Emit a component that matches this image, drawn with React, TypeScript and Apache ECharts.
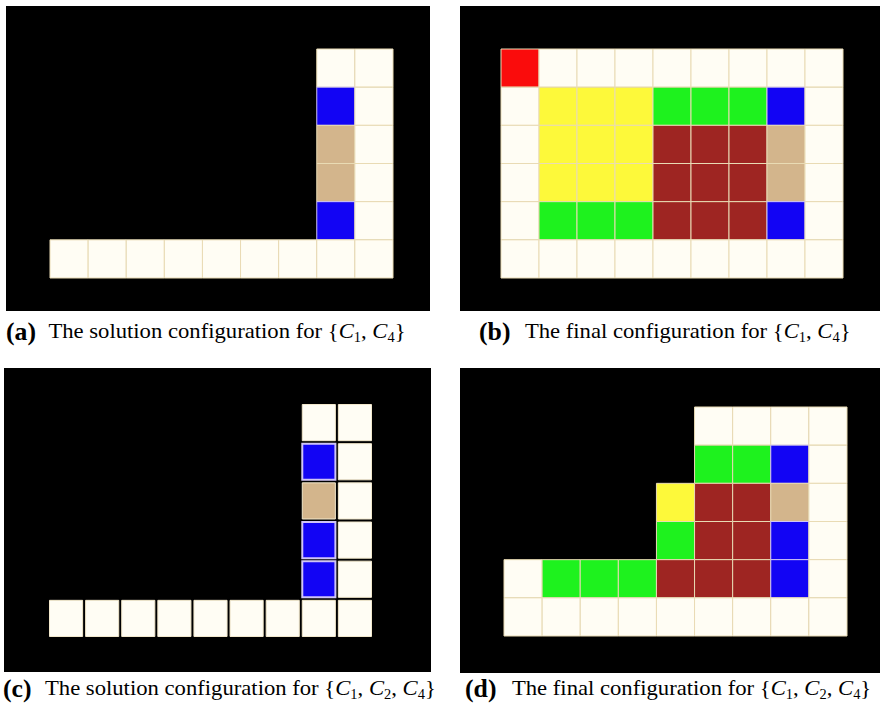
import React, { useEffect, useRef } from "react";
import * as echarts from "echarts";

// grid labels (hidden category axes)
const colLabels = ["1", "2", "3", "4", "5", "6", "7", "8", "9"];
const rowLabels = ["1", "2", "3", "4", "5", "6"];

// cell maps, top row first: W white, B blue, T tan, R red, Y yellow, G green, M brown, . empty
const panelA = [
  ".......WW",
  ".......BW",
  ".......TW",
  ".......TW",
  ".......BW",
  "WWWWWWWWW",
];
const panelB = [
  "RWWWWWWWW",
  "WYYYGGGBW",
  "WYYYMMMTW",
  "WYYYMMMTW",
  "WGGGMMMBW",
  "WWWWWWWWW",
];
const panelC = [
  ".......WW",
  ".......BW",
  ".......TW",
  ".......BW",
  ".......BW",
  "WWWWWWWWW",
];
const panelD = [
  ".....WWWW",
  ".....GGBW",
  "....YMMTW",
  "....GMMBW",
  "WGGGMMMBW",
  "WWWWWWWWW",
];

const captionLabels = ["(a)", "(b)", "(c)", "(d)"];
const captionTexts = [
  "The solution configuration for",
  "The final configuration for",
  "The solution configuration for",
  "The final configuration for",
];
const captionSubs = [["1", "4"], ["1", "4"], ["1", "2", "4"], ["1", "2", "4"]];

const PALETTE: Record<string, string> = {
  W: "#fffdf4",
  B: "#1204f4",
  T: "#d3b58c",
  R: "#fa0c0c",
  Y: "#fdf93a",
  G: "#1ef21e",
  M: "#9e2522",
};

const SERIF = "Liberation Serif";

const layout = [
  { bg: [6, 6, 424, 305], grid: [50, 49, 343, 229], inset: 0, cap: [6, 318], pad: 12 },
  { bg: [460, 6, 420, 305], grid: [501, 49, 342, 229], inset: 0, cap: [479, 318], pad: 14 },
  { bg: [4, 368, 427, 304], grid: [48, 403, 325, 235], inset: 1.5, cap: [3, 675], pad: 13 },
  { bg: [460, 368, 420, 305], grid: [504, 407, 343, 229], inset: 0, cap: [465, 675], pad: 15 },
];

function buildCells(panel: string[]) {
  const out: { value: number[]; key: string }[] = [];
  panel.forEach((row, r) => {
    row.split("").forEach((ch, c) => {
      if (ch !== ".") out.push({ value: [c, r], key: ch });
    });
  });
  return out;
}

export default function App() {
  const ref = useRef<HTMLDivElement>(null);
  useEffect(() => {
    if (!ref.current) return;
    const chart = echarts.init(ref.current, undefined, { renderer: "svg" });
    const panels = [panelA, panelB, panelC, panelD];

    const grids: any[] = [];
    const xAxes: any[] = [];
    const yAxes: any[] = [];
    const series: any[] = [];
    const graphics: any[] = [];

    panels.forEach((p, i) => {
      const L = layout[i];
      grids.push({ left: L.grid[0], top: L.grid[1], width: L.grid[2], height: L.grid[3], containLabel: false });
      xAxes.push({ type: "category", data: colLabels, gridIndex: i, show: false, boundaryGap: true });
      yAxes.push({ type: "category", data: rowLabels, gridIndex: i, show: false, inverse: true, boundaryGap: true });
      const cells = buildCells(p);
      const inset = L.inset;
      series.push({
        type: "custom",
        coordinateSystem: "cartesian2d",
        xAxisIndex: i,
        yAxisIndex: i,
        data: cells.map((c) => c.value),
        renderItem: (params: any, api: any) => {
          const pt = api.coord([api.value(0), api.value(1)]);
          const sz = api.size([1, 1]);
          const key = cells[params.dataIndex].key;
          let stroke = inset ? "#f2e8cc" : "#e9dbb4";
          let lw = 1;
          if (key === "B") {
            stroke = "#cfc4f6";
            lw = inset ? 2 : 1;
          }
          return {
            type: "rect",
            shape: {
              x: pt[0] - sz[0] / 2 + inset,
              y: pt[1] - sz[1] / 2 + inset,
              width: sz[0] - 2 * inset,
              height: sz[1] - 2 * inset,
            },
            style: { fill: PALETTE[key], stroke, lineWidth: lw },
          };
        },
      });
      graphics.push({
        type: "rect",
        z: -10,
        shape: { x: L.bg[0], y: L.bg[1], width: L.bg[2], height: L.bg[3] },
        style: { fill: "#000" },
      });
      const subs = captionSubs[i].map((s) => `{i|C}{s|${s}}`).join(", ");
      graphics.push({
        type: "text",
        x: L.cap[0],
        y: L.cap[1],
        scaleX: 1.03,
        style: {
          text: `{lab|${captionLabels[i]}}${captionTexts[i]} {${subs}}`,
          fontFamily: SERIF,
          fontSize: 22,
          lineHeight: 26,
          fill: "#000",
          align: "left",
          verticalAlign: "top",
          rich: {
            lab: { fontFamily: SERIF, fontSize: 25, fontWeight: "bold", lineHeight: 26, padding: [0, L.pad, 0, 0], fill: "#000" },
            i: { fontFamily: SERIF, fontSize: 22, fontStyle: "italic", lineHeight: 26, fill: "#000" },
            s: { fontFamily: SERIF, fontSize: 14, lineHeight: 16, verticalAlign: "bottom", fill: "#000" },
          },
        },
      });
    });

    chart.setOption({
      animation: false,
      backgroundColor: "#ffffff",
      grid: grids,
      xAxis: xAxes,
      yAxis: yAxes,
      series,
      graphic: graphics,
    });
    return () => chart.dispose();
  }, []);
  return (
    <div
      ref={ref}
      style={{ position: "fixed", left: 0, top: 0, width: 880, height: 712, background: "#fff" }}
    />
  );
}
